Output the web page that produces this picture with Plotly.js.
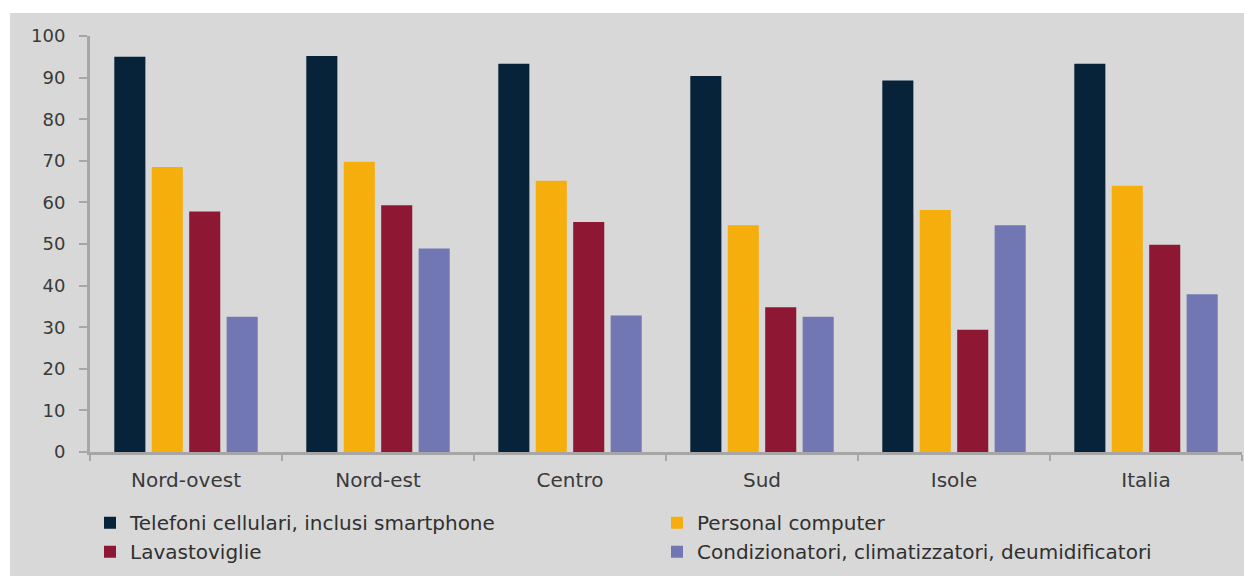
<!DOCTYPE html>
<html>
<head>
<meta charset="utf-8">
<script src="https://cdn.plot.ly/plotly-3.0.1.min.js"></script>
<style>html,body{margin:0;padding:0;background:#fff;}#chart{width:1244px;height:576px;}</style>
</head>
<body>
<div id="chart"></div>
<script>
const categories = ["Nord-ovest", "Nord-est", "Centro", "Sud", "Isole", "Italia"];
const seriesNames = ["Telefoni cellulari, inclusi smartphone", "Personal computer", "Lavastoviglie", "Condizionatori, climatizzatori, deumidificatori"];
const telefoni = [95.0, 95.2, 93.3, 90.4, 89.3, 93.3];
const personalComputer = [68.5, 69.8, 65.2, 54.5, 58.2, 64.0];
const lavastoviglie = [57.8, 59.3, 55.3, 34.8, 29.4, 49.8];
const condizionatori = [32.5, 48.9, 32.8, 32.5, 54.5, 37.9];
const colors = ["#06233a", "#f5ae0c", "#8e1834", "#7177b2"];
const yTicks = [0, 10, 20, 30, 40, 50, 60, 70, 80, 90, 100];

const allValues = [telefoni, personalComputer, lavastoviglie, condizionatori];
const traces = allValues.map((vals, i) => ({
  type: "bar",
  name: seriesNames[i],
  x: categories,
  y: vals,
  marker: {color: colors[i], line: {width: 0}},
  hoverinfo: "x+y+name"
}));

const fontFam = "DejaVu Sans, Arial, sans-serif";
const layout = {
  width: 1244,
  height: 576,
  margin: {l: 90, r: 2, t: 36, b: 124, pad: 0, autoexpand: false},
  paper_bgcolor: "#ffffff",
  plot_bgcolor: "rgba(0,0,0,0)",
  barmode: "group",
  bargap: 0.22,
  bargroupgap: 0.17,
  showlegend: true,
  font: {family: fontFam, color: "#404040", size: 18},
  shapes: [{
    type: "rect", xref: "paper", yref: "paper", layer: "below",
    x0: -0.0694, x1: 1.01, y0: -0.3, y1: 1.0553,
    fillcolor: "#d8d8d8", line: {width: 0}
  }],
  xaxis: {
    type: "category",
    showgrid: false,
    zeroline: false,
    showline: true,
    linecolor: "#a6a6a6",
    linewidth: 3,
    ticks: "outside",
    tickson: "boundaries",
    ticklen: 6,
    tickcolor: "#a6a6a6",
    tickwidth: 2,
    tickfont: {family: fontFam, size: 20, color: "#3a3a3a"},
    ticklabelstandoff: 8
  },
  yaxis: {
    range: [0, 100],
    tickvals: yTicks,
    ticktext: yTicks.map(String),
    showgrid: false,
    zeroline: false,
    showline: true,
    linecolor: "#a6a6a6",
    linewidth: 3,
    ticks: "outside",
    ticklen: 8,
    tickcolor: "#a6a6a6",
    tickwidth: 2,
    tickfont: {family: fontFam, size: 18, color: "#3a3a3a"},
    ticklabelstandoff: 10
  },
  legend: {
    orientation: "h",
    x: 0.0,
    xanchor: "left",
    y: -0.123,
    yanchor: "top",
    entrywidth: 522,
    entrywidthmode: "pixels",
    bgcolor: "rgba(0,0,0,0)",
    font: {family: fontFam, size: 20, color: "#303030"},
    itemwidth: 30,
    traceorder: "normal"
  }
};

Plotly.newPlot("chart", traces, layout, {displayModeBar: false, staticPlot: true});
</script>
</body>
</html>
